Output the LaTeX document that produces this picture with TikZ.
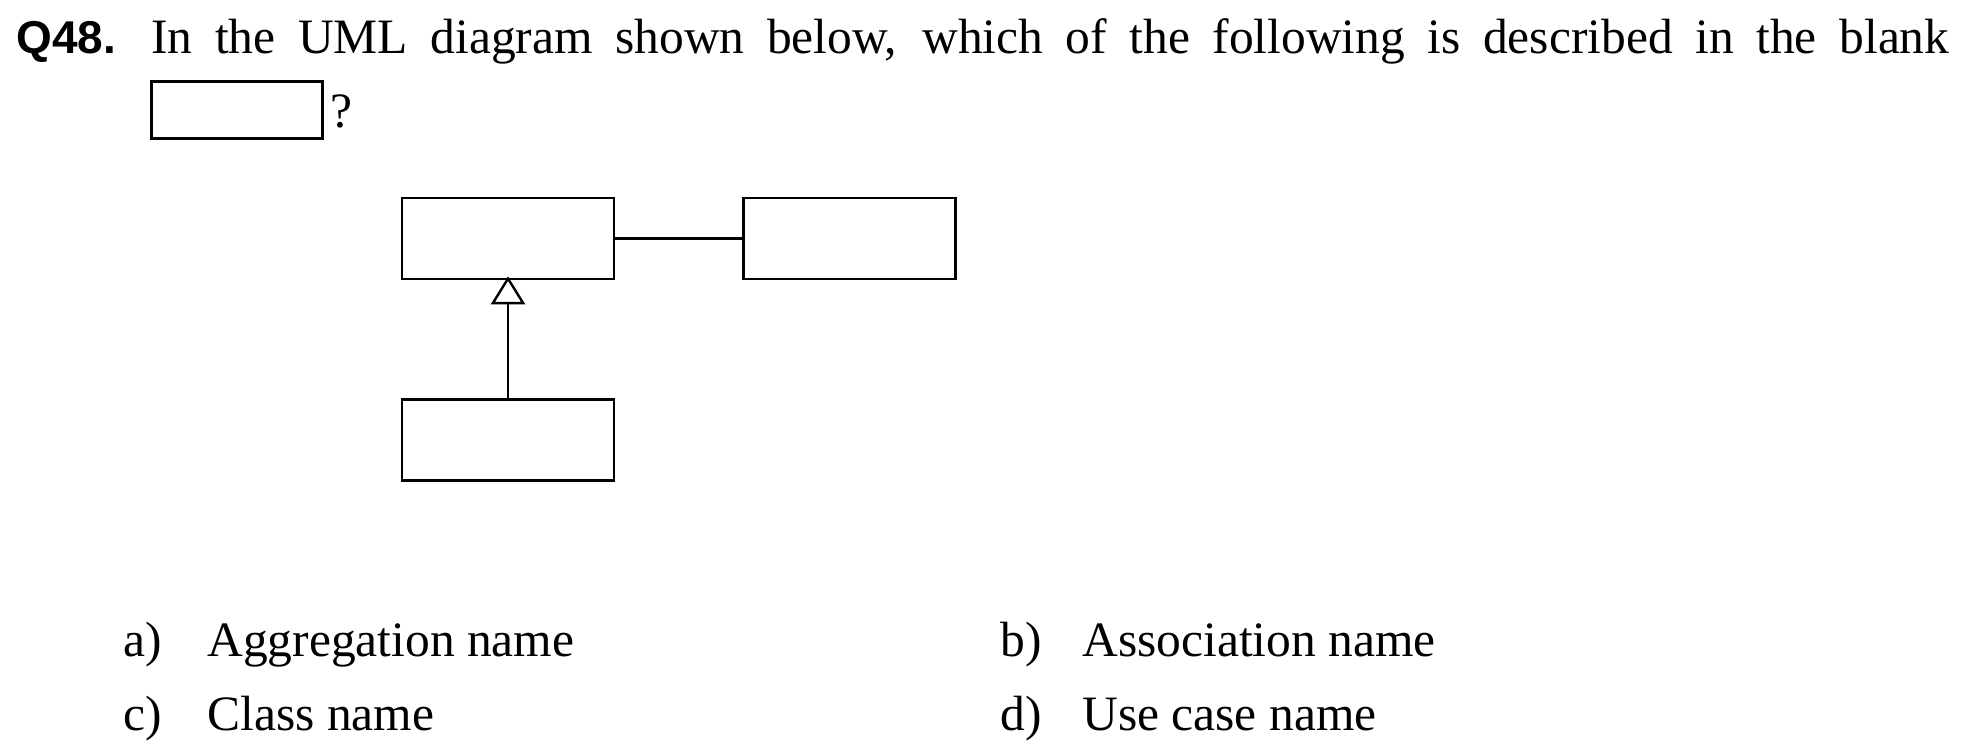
\documentclass[tikz,border=0pt]{standalone}
\usepackage{fontspec}
\setmainfont{Liberation Serif}
\newfontfamily\qnumfont{Liberation Sans}
\usepackage{tikz}
\usetikzlibrary{arrows.meta,positioning}

\begin{document}
\begin{tikzpicture}[x=0.5pt,y=-0.5pt]
			\tikzstyle{Class}	= [rectangle, draw, line width=1.3pt, minimum width=106pt, minimum height=40.5pt, inner sep=0pt]
			\tikzstyle{Blank}	= [rectangle, draw, line width=1.3pt, minimum width=85.5pt, minimum height=28.25pt, inner sep=0pt]
			\tikzstyle{Txt}		= [anchor=base west, inner sep=0pt, font=\fontsize{24.75}{30}\selectfont]
			\tikzstyle{QNum}	= [anchor=base west, inner sep=0pt, font=\qnumfont\bfseries\fontsize{23}{28}\selectfont]
			\tikzstyle{Assoc}	= [line width=1.2pt]
			\tikzstyle{Gen}		= [line width=1.2pt, shorten >=-2pt, -{Triangle[open, length=14pt, width=17pt]}]

			\useasboundingbox (0,0) rectangle (1966,751);

			% question
			\node (qn) at (16,53) [QNum] {Q48.};
			\node (q1) at (151,53) [Txt] {\makebox[899pt][s]{In the UML diagram shown below, which of the following is described in the blank}};
			\node (blank) at (237,110) [Blank] {};
			\node (qm) at (330,127) [Txt] {?};

			% diagram
			\node (c1) at (508,238.5) [Class] {};
			\node (c2) at (849.5,238.5) [Class] {};
			\node (c3) at (508,440) [Class] {};

			\draw (c1) to (c2) [Assoc];
			\draw (c3.north) to (c1.south) [Gen];

			% options
			\node (la) at (123,656) [Txt] {a)};
			\node (oa) at (207,656) [Txt] {Aggregation name};
			\node (lb) at (1000,656) [Txt] {b)};
			\node (ob) at (1082,656) [Txt] {Association name};
			\node (lc) at (123,730) [Txt] {c)};
			\node (oc) at (207,730) [Txt] {Class name};
			\node (ld) at (1000,730) [Txt] {d)};
			\node (od) at (1082,730) [Txt] {Use case name};
		\end{tikzpicture}
\end{document}
